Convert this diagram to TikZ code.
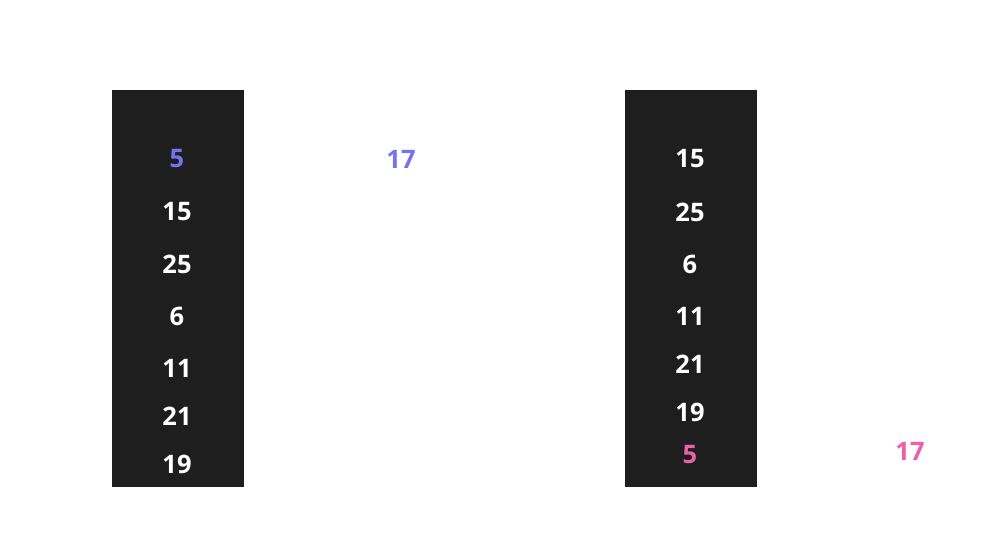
\documentclass[tikz,border=0pt]{standalone}
\usepackage{fontspec}
\setmainfont{Open Sans}
\usetikzlibrary{positioning}
\definecolor{colbg}{HTML}{1E1E1E}
\definecolor{pickblue}{HTML}{7573F0}
\definecolor{pickpink}{HTML}{EE5FA8}

\begin{document}
\begin{tikzpicture}[x=0.02cm, y=-0.02cm, font=\fontsize{14.5}{17}\selectfont\bfseries]
		\tikzset{column/.style={fill=colbg,draw=none,minimum width=2.64cm,minimum height=7.94cm,inner sep=0pt}}
		\tikzset{item/.style={text=white,inner sep=0pt}}
		
		\useasboundingbox (0,0) rectangle (983,548);
		
		\node[column] (before) at (178,288.5) {};
		\node[column] (after) at (691,288.5) {};
		
		% before
		\node[item,text=pickblue] (b5) at (177,159) {5};
		\foreach \val/\ypos in {15/212,25/264,6/316,11/368,21/416,19/464}
			\node[item] (b\val) at (177,\ypos) {\val};
		\node[item,text=pickblue] (bkey) at (401,159) {17};
		
		% after
		\foreach \val/\ypos in {15/159,25/212,6/264,11/316,21/364,19/412}
			\node[item] (a\val) at (690,\ypos) {\val};
		\node[item,text=pickpink] (a5) at (690,455) {5};
		\node[item,text=pickpink] (akey) at (910,451) {17};
	\end{tikzpicture}
\end{document}
